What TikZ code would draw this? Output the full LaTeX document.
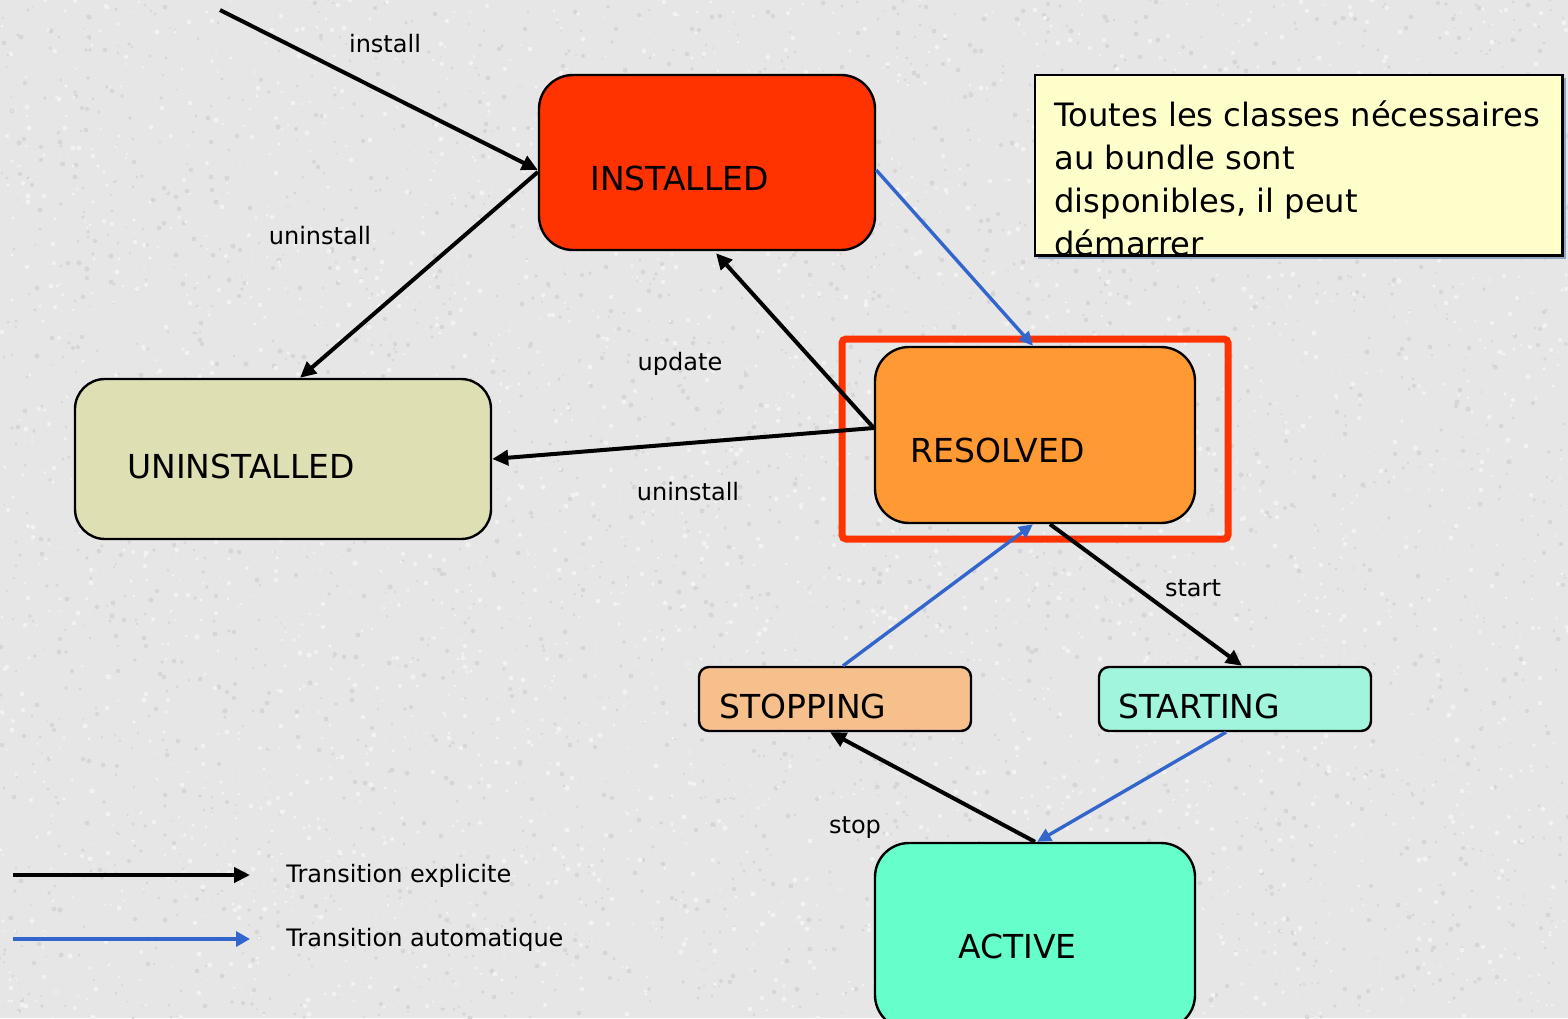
\documentclass[tikz,border=0pt]{standalone}
\usepackage{fontspec}
\setmainfont{DejaVu Sans}
\usetikzlibrary{arrows.meta,calc}

\definecolor{bg}{HTML}{E6E6E6}
\definecolor{speckdark}{HTML}{D6D6D6}
\definecolor{specklight}{HTML}{F2F2F2}
\definecolor{installedc}{HTML}{FF3300}
\definecolor{uninstalledc}{HTML}{DFDFB4}
\definecolor{resolvedc}{HTML}{FF9933}
\definecolor{stoppingc}{HTML}{F5C08C}
\definecolor{startingc}{HTML}{A0F5DC}
\definecolor{activec}{HTML}{66FFCC}
\definecolor{notec}{HTML}{FFFFCC}
\definecolor{noteshadow}{HTML}{8FA6C6}
\definecolor{trblue}{HTML}{3366CC}
\definecolor{hilite}{HTML}{FF3300}

\begin{document}
\begin{tikzpicture}[x=0.5pt,y=-0.5pt,
  state/.style={draw=black, line width=1.2pt, rounded corners=17pt, inner sep=0pt},
  smallstate/.style={state, rounded corners=5pt},
  statelbl/.style={font=\fontsize{16.5pt}{19pt}\selectfont, inner sep=0pt, anchor=west},
  edgelbl/.style={font=\fontsize{12pt}{14pt}\selectfont, inner sep=0pt},
  explicit/.style={draw=black, line width=2pt, -{Triangle[length=8pt,width=7.5pt]}},
  autotrans/.style={draw=trblue, line width=1.7pt, -{Triangle[length=7pt,width=6.5pt]}},
]
\clip (0,0) rectangle (1568,1018);
\fill[bg] (0,0) rectangle (1568,1018);

% grainy paper texture
\pgfmathsetseed{7}
\foreach \i in {1,...,3000}{
  \pgfmathsetmacro\px{random(0,1568)}
  \pgfmathsetmacro\py{random(0,1018)}
  \pgfmathsetmacro\pr{0.4+0.9*rnd}
  \fill[speckdark] (\px,\py) circle[radius=\pr pt];
}
\foreach \i in {1,...,3000}{
  \pgfmathsetmacro\px{random(0,1568)}
  \pgfmathsetmacro\py{random(0,1018)}
  \pgfmathsetmacro\pr{0.4+0.9*rnd}
  \fill[specklight] (\px,\py) circle[radius=\pr pt];
}

% states
\node[state, fill=installedc, minimum width=168pt, minimum height=87.5pt] (installed) at (707,162.5) {};
\node[state, fill=uninstalledc, rounded corners=15pt, minimum width=208pt, minimum height=80pt] (uninstalled) at (283,459) {};
\node[state, fill=resolvedc, minimum width=160pt, minimum height=88pt] (resolved) at (1035,435) {};
\node[smallstate, fill=stoppingc, minimum width=136pt, minimum height=32pt] (stopping) at (835,699) {};
\node[smallstate, fill=startingc, minimum width=136pt, minimum height=32pt] (starting) at (1235,699) {};
\node[state, fill=activec, minimum width=160pt, minimum height=93pt] (active) at (1035,936) {};

% highlight frame around RESOLVED
\node[draw=hilite, line width=3.5pt, rounded corners=2pt, inner sep=0pt,
      minimum width=193pt, minimum height=100pt] (highlight) at (1035,439) {};

% state labels
\node[statelbl] (installedlbl) at (590,178) {INSTALLED};
\node[statelbl] (uninstalledlbl) at (127,466) {UNINSTALLED};
\node[statelbl] (resolvedlbl) at (910,450) {RESOLVED};
\node[statelbl] (stoppinglbl) at (719,706) {STOPPING};
\node[statelbl] (startinglbl) at (1118,706) {STARTING};
\node[statelbl] (activelbl) at (958,946) {ACTIVE};

% note
\fill[noteshadow] (1038,78) rectangle (1566,259);
\node[fill=notec, inner sep=0pt, minimum width=263.5pt, minimum height=90pt] (note) at (1298.5,165) {};
\node[anchor=north west, inner sep=0pt, align=left,
      font=\fontsize{16.1pt}{21.5pt}\selectfont] (notetext) at (1054,100)
  {Toutes les classes nécessaires\\au bundle sont\\disponibles, il peut\\démarrer};
\draw[black, line width=1.1pt] (note.south west) rectangle (note.north east);

% transitions
\coordinate (installsrc) at (220,10);
\draw[explicit] (installsrc) -- ([yshift=-3.75pt]installed.west);
\draw[explicit] ([yshift=-4.75pt]installed.west) -- ([xshift=8.5pt]uninstalled.north);
\draw[explicit] ([yshift=3.5pt]resolved.west) -- ([xshift=4.5pt,yshift=-1pt]installed.south);
\draw[explicit] ([yshift=3.5pt]resolved.west) -- (uninstalled.east);
\draw[autotrans] ([yshift=-3.75pt]installed.east) -- ([xshift=-1pt]resolved.north);
\draw[explicit] ([xshift=7.5pt]resolved.south) -- ([xshift=3.5pt]starting.north);
\draw[autotrans] ([xshift=4pt]stopping.north) -- ([xshift=-1pt]resolved.south);
\draw[autotrans] ([xshift=-4.5pt]starting.south) -- ([xshift=1pt]active.north);
\draw[explicit] (active.north) -- ([xshift=-2.5pt]stopping.south);

% transition labels
\node[edgelbl] (linstall) at (385,44) {install};
\node[edgelbl] (luninstalla) at (320,236) {uninstall};
\node[edgelbl] (lupdate) at (680,364) {update};
\node[edgelbl] (luninstallb) at (688,492) {uninstall};
\node[edgelbl] (lstart) at (1193,588) {start};
\node[edgelbl] (lstop) at (855,828) {stop};

% legend
\coordinate (legexa) at (13,875);
\coordinate (legexb) at (250,875);
\coordinate (legaua) at (13,939);
\coordinate (legaub) at (250,939);
\draw[explicit] (legexa) -- (legexb);
\draw[autotrans, -{Triangle[length=7pt,width=7.5pt]}] (legaua) -- (legaub);
\node[edgelbl, anchor=west] (legex) at (286,876) {Transition explicite};
\node[edgelbl, anchor=west] (legau) at (286,940) {Transition automatique};
\end{tikzpicture}
\end{document}
